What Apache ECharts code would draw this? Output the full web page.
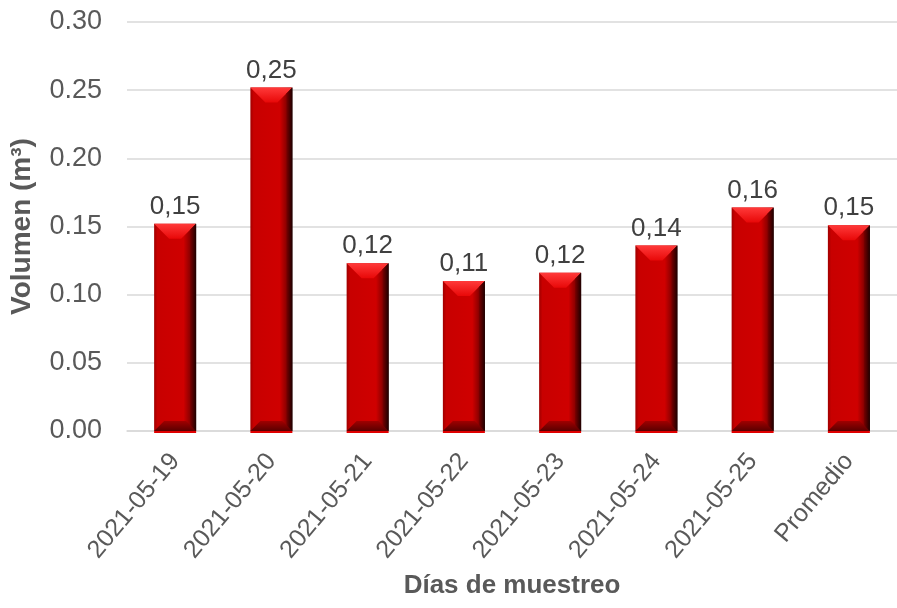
<!DOCTYPE html>
<html>
<head>
<meta charset="utf-8">
<script src="https://cdn.jsdelivr.net/npm/echarts@6/dist/echarts.min.js"></script>
<style>
  html, body { margin: 0; padding: 0; background: #ffffff; }
  #chart { width: 897px; height: 608px; }
</style>
</head>
<body>
<div id="chart"></div>
<script>
// Sampling days and the measured volume collected on each one
var categories = ['2021-05-19', '2021-05-20', '2021-05-21', '2021-05-22', '2021-05-23', '2021-05-24', '2021-05-25', 'Promedio'];
var volumes = [0.152, 0.252, 0.123, 0.110, 0.116, 0.136, 0.164, 0.151];
var yTicks = [0, 0.05, 0.10, 0.15, 0.20, 0.25, 0.30];

var BAR_W = 42;
var BEVEL = 15;
var FONT = '"Liberation Sans", Arial, sans-serif';

var chart = echarts.init(document.getElementById('chart'), null, { renderer: 'canvas' });

// Bevelled "3D" column faces drawn on top of the plain bar
function renderBevel(params, api) {
  var idx = api.value(0);
  var top = api.coord([idx, api.value(1)]);
  var base = api.coord([idx, 0]);
  var x0 = top[0] - BAR_W / 2;
  var x1 = top[0] + BAR_W / 2;
  var y0 = top[1];
  var y1 = base[1];
  var b = Math.min(BEVEL, (y1 - y0) / 2);
  return {
    type: 'group',
    children: [
      {
        type: 'polygon',
        shape: { points: [[x0, y0], [x1, y0], [x1 - b, y0 + b], [x0 + b, y0 + b]] },
        style: {
          fill: new echarts.graphic.LinearGradient(0, 0, 0, 1, [
            { offset: 0, color: '#ff3a3a' },
            { offset: 1, color: '#e80808' }
          ])
        }
      },
      {
        type: 'polygon',
        shape: { points: [[x0, y1], [x1, y1], [x1 - 10, y1 - 10], [x0 + 10, y1 - 10]] },
        style: {
          fill: new echarts.graphic.LinearGradient(0, 0, 0, 1, [
            { offset: 0, color: '#a00000' },
            { offset: 1, color: '#5a0000' }
          ])
        }
      },
      {
        type: 'polygon',
        shape: { points: [[x1, y0], [x1, y1], [x1 - 6, y1 - 6], [x1 - 6, y0 + 6]] },
        style: {
          fill: new echarts.graphic.LinearGradient(0, 0, 1, 0, [
            { offset: 0, color: '#7a0000' },
            { offset: 1, color: '#1e0000' }
          ])
        }
      },
      {
        type: 'rect',
        shape: { x: x0, y: y1, width: BAR_W, height: 2 },
        style: { fill: '#e00000' }
      }
    ]
  };
}

chart.setOption({
  backgroundColor: '#ffffff',
  animation: false,
  grid: { left: 122, right: -10, top: 22, bottom: 177 },
  xAxis: {
    type: 'category',
    data: categories,
    name: 'Días de muestreo',
    nameLocation: 'middle',
    nameGap: 142,
    nameTextStyle: { fontFamily: FONT, fontSize: 26, fontWeight: 'bold', color: '#595959' },
    axisLine: { show: true, lineStyle: { color: '#d9d9d9', width: 1.5 } },
    axisTick: { show: false },
    axisLabel: {
      rotate: 50,
      margin: 26,
      interval: 0,
      fontFamily: FONT,
      fontSize: 25,
      color: '#595959'
    }
  },
  yAxis: {
    type: 'value',
    min: 0,
    max: 0.30,
    interval: 0.05,
    name: 'Volumen (m³)',
    nameLocation: 'middle',
    nameGap: 91,
    nameRotate: 90,
    nameTextStyle: { fontFamily: FONT, fontSize: 28, fontWeight: 'bold', color: '#595959' },
    axisLine: { show: false },
    axisTick: { show: false },
    splitLine: { lineStyle: { color: '#d9d9d9', width: 1.5 } },
    axisLabel: {
      margin: 25,
      fontFamily: FONT,
      fontSize: 27,
      color: '#595959',
      formatter: function (v) {
        var hit = yTicks.filter(function (t) { return Math.abs(t - v) < 1e-9; });
        return hit.length ? hit[0].toFixed(2) : '';
      }
    }
  },
  series: [
    {
      type: 'bar',
      data: volumes,
      barWidth: BAR_W,
      itemStyle: {
        color: new echarts.graphic.LinearGradient(0, 0, 1, 0, [
          { offset: 0, color: '#a00000' },
          { offset: 0.08, color: '#c80000' },
          { offset: 0.7, color: '#cf0000' },
          { offset: 0.86, color: '#8a0000' },
          { offset: 1, color: '#2a0000' }
        ])
      },
      label: {
        show: true,
        position: 'top',
        distance: 4,
        fontFamily: FONT,
        fontSize: 26,
        color: '#404040',
        formatter: function (p) { return p.value.toFixed(2).replace('.', ','); }
      },
      z: 2
    },
    {
      type: 'custom',
      data: volumes.map(function (v, i) { return [i, v]; }),
      renderItem: renderBevel,
      silent: true,
      z: 3
    }
  ]
});
</script>
</body>
</html>
